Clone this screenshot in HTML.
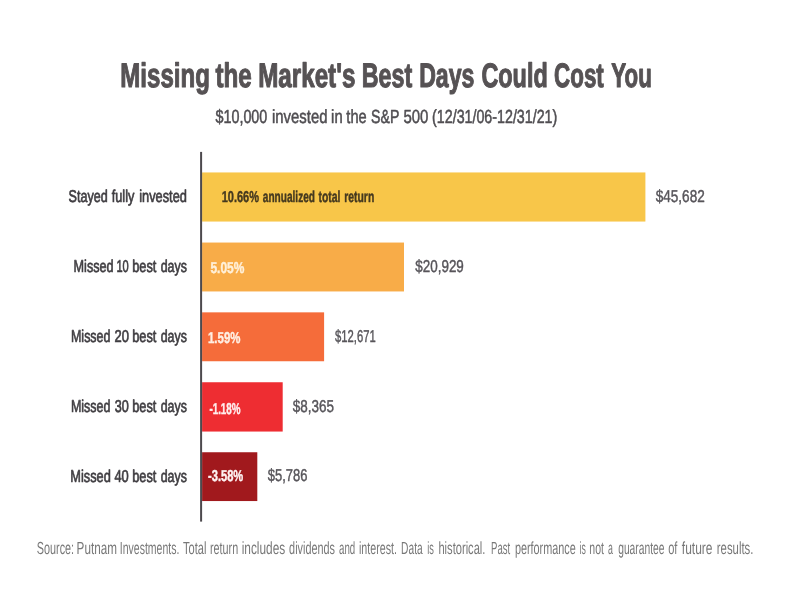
<!DOCTYPE html>
<html lang="en">
<head>
<meta charset="utf-8">
<title>Missing the Market's Best Days Could Cost You</title>
<style>
html,body{margin:0;padding:0;background:#ffffff;}
body{width:792px;height:612px;overflow:hidden;}
svg{display:block;will-change:transform;}
text{font-family:"Liberation Sans",sans-serif;white-space:pre;text-rendering:geometricPrecision;}
</style>
</head>
<body>
<svg width="792" height="612" viewBox="0 0 792 612">
<rect x="0" y="0" width="792" height="612" fill="#ffffff"/>
<rect x="202.10" y="172.45" width="443.30" height="49.10" fill="#F8C649"/>
<rect x="202.10" y="242.55" width="201.90" height="48.90" fill="#F8AC48"/>
<rect x="202.10" y="312.35" width="122.00" height="48.90" fill="#F56C3A"/>
<rect x="202.10" y="382.25" width="80.60" height="49.30" fill="#EE2D32"/>
<rect x="202.10" y="452.25" width="55.20" height="48.80" fill="#A1191D"/>
<rect x="200.10" y="151.90" width="2.00" height="369.70" fill="#4c494d"/>
<text y="87.00" font-size="34.0" font-weight="bold" fill="#565254" stroke="#565254" stroke-width="1.1" stroke-linejoin="round"><tspan x="120.31" textLength="89.52" lengthAdjust="spacingAndGlyphs">Missing</tspan> <tspan x="215.46" textLength="36.31" lengthAdjust="spacingAndGlyphs">the</tspan> <tspan x="258.20" textLength="97.20" lengthAdjust="spacingAndGlyphs">Market's</tspan> <tspan x="361.72" textLength="50.45" lengthAdjust="spacingAndGlyphs">Best</tspan> <tspan x="419.16" textLength="55.24" lengthAdjust="spacingAndGlyphs">Days</tspan> <tspan x="481.42" textLength="66.27" lengthAdjust="spacingAndGlyphs">Could</tspan> <tspan x="554.07" textLength="49.71" lengthAdjust="spacingAndGlyphs">Cost</tspan> <tspan x="611.32" textLength="40.48" lengthAdjust="spacingAndGlyphs">You</tspan></text>
<text y="123.00" font-size="19.0" font-weight="normal" fill="#504e52" stroke="#504e52" stroke-width="0.55" stroke-linejoin="round"><tspan x="215.52" textLength="51.76" lengthAdjust="spacingAndGlyphs">$10,000</tspan> <tspan x="271.94" textLength="55.53" lengthAdjust="spacingAndGlyphs">invested</tspan> <tspan x="331.11" textLength="11.53" lengthAdjust="spacingAndGlyphs">in</tspan> <tspan x="346.37" textLength="20.35" lengthAdjust="spacingAndGlyphs">the</tspan> <tspan x="371.11" textLength="27.93" lengthAdjust="spacingAndGlyphs">S&amp;P</tspan> <tspan x="403.38" textLength="24.98" lengthAdjust="spacingAndGlyphs">500</tspan> <tspan x="432.08" textLength="125.18" lengthAdjust="spacingAndGlyphs">(12/31/06-12/31/21)</tspan></text>
<text y="202.00" font-size="17.2" font-weight="normal" fill="#403e42" stroke="#403e42" stroke-width="0.7" stroke-linejoin="round"><tspan x="68.52" textLength="39.15" lengthAdjust="spacingAndGlyphs">Stayed</tspan> <tspan x="111.73" textLength="22.72" lengthAdjust="spacingAndGlyphs">fully</tspan> <tspan x="139.21" textLength="47.68" lengthAdjust="spacingAndGlyphs">invested</tspan></text>
<text y="272.00" font-size="17.2" font-weight="normal" fill="#403e42" stroke="#403e42" stroke-width="0.7" stroke-linejoin="round"><tspan x="73.58" textLength="40.08" lengthAdjust="spacingAndGlyphs">Missed</tspan> <tspan x="116.46" textLength="12.30" lengthAdjust="spacingAndGlyphs">10</tspan> <tspan x="132.13" textLength="24.25" lengthAdjust="spacingAndGlyphs">best</tspan> <tspan x="160.67" textLength="26.18" lengthAdjust="spacingAndGlyphs">days</tspan></text>
<text y="342.00" font-size="17.2" font-weight="normal" fill="#403e42" stroke="#403e42" stroke-width="0.7" stroke-linejoin="round"><tspan x="70.97" textLength="39.53" lengthAdjust="spacingAndGlyphs">Missed</tspan> <tspan x="114.51" textLength="14.46" lengthAdjust="spacingAndGlyphs">20</tspan> <tspan x="132.13" textLength="24.25" lengthAdjust="spacingAndGlyphs">best</tspan> <tspan x="160.67" textLength="26.18" lengthAdjust="spacingAndGlyphs">days</tspan></text>
<text y="412.00" font-size="17.2" font-weight="normal" fill="#403e42" stroke="#403e42" stroke-width="0.7" stroke-linejoin="round"><tspan x="70.93" textLength="39.56" lengthAdjust="spacingAndGlyphs">Missed</tspan> <tspan x="114.63" textLength="14.06" lengthAdjust="spacingAndGlyphs">30</tspan> <tspan x="132.13" textLength="24.25" lengthAdjust="spacingAndGlyphs">best</tspan> <tspan x="160.67" textLength="26.18" lengthAdjust="spacingAndGlyphs">days</tspan></text>
<text y="482.00" font-size="17.2" font-weight="normal" fill="#403e42" stroke="#403e42" stroke-width="0.7" stroke-linejoin="round"><tspan x="70.25" textLength="40.52" lengthAdjust="spacingAndGlyphs">Missed</tspan> <tspan x="114.44" textLength="14.35" lengthAdjust="spacingAndGlyphs">40</tspan> <tspan x="132.13" textLength="24.25" lengthAdjust="spacingAndGlyphs">best</tspan> <tspan x="160.67" textLength="26.18" lengthAdjust="spacingAndGlyphs">days</tspan></text>
<text y="202.00" font-size="15.8" font-weight="bold" fill="#45391f" stroke="#45391f" stroke-width="0.45" stroke-linejoin="round"><tspan x="221.68" textLength="37.30" lengthAdjust="spacingAndGlyphs">10.66%</tspan> <tspan x="262.81" textLength="52.16" lengthAdjust="spacingAndGlyphs">annualized</tspan> <tspan x="318.44" textLength="21.91" lengthAdjust="spacingAndGlyphs">total</tspan> <tspan x="344.22" textLength="30.04" lengthAdjust="spacingAndGlyphs">return</tspan></text>
<text y="273.00" font-size="15.8" font-weight="bold" fill="#FFF0D9" stroke="#FFF0D9" stroke-width="0.45" stroke-linejoin="round"><tspan x="210.42" textLength="33.93" lengthAdjust="spacingAndGlyphs">5.05%</tspan></text>
<text y="343.00" font-size="15.8" font-weight="bold" fill="#FFEFE3" stroke="#FFEFE3" stroke-width="0.45" stroke-linejoin="round"><tspan x="208.01" textLength="32.42" lengthAdjust="spacingAndGlyphs">1.59%</tspan></text>
<text y="414.00" font-size="15.8" font-weight="bold" fill="#FFEEEE" stroke="#FFEEEE" stroke-width="0.45" stroke-linejoin="round"><tspan x="209.38" textLength="31.21" lengthAdjust="spacingAndGlyphs">-1.18%</tspan></text>
<text y="481.00" font-size="15.8" font-weight="bold" fill="#FFF3F3" stroke="#FFF3F3" stroke-width="0.45" stroke-linejoin="round"><tspan x="208.06" textLength="35.19" lengthAdjust="spacingAndGlyphs">-3.58%</tspan></text>
<text y="202.00" font-size="17.2" font-weight="normal" fill="#57555a" stroke="#57555a" stroke-width="0.45" stroke-linejoin="round"><tspan x="655.70" textLength="49.04" lengthAdjust="spacingAndGlyphs">$45,682</tspan></text>
<text y="272.00" font-size="17.2" font-weight="normal" fill="#57555a" stroke="#57555a" stroke-width="0.45" stroke-linejoin="round"><tspan x="415.28" textLength="48.57" lengthAdjust="spacingAndGlyphs">$20,929</tspan></text>
<text y="342.00" font-size="17.2" font-weight="normal" fill="#57555a" stroke="#57555a" stroke-width="0.45" stroke-linejoin="round"><tspan x="334.99" textLength="40.71" lengthAdjust="spacingAndGlyphs">$12,671</tspan></text>
<text y="412.00" font-size="17.2" font-weight="normal" fill="#57555a" stroke="#57555a" stroke-width="0.45" stroke-linejoin="round"><tspan x="292.70" textLength="41.19" lengthAdjust="spacingAndGlyphs">$8,365</tspan></text>
<text y="481.00" font-size="17.2" font-weight="normal" fill="#57555a" stroke="#57555a" stroke-width="0.45" stroke-linejoin="round"><tspan x="267.71" textLength="39.67" lengthAdjust="spacingAndGlyphs">$5,786</tspan></text>
<text y="554.00" font-size="17.5" font-weight="normal" fill="#787878"><tspan x="36.75" textLength="37.34" lengthAdjust="spacingAndGlyphs">Source:</tspan> <tspan x="76.59" textLength="40.34" lengthAdjust="spacingAndGlyphs">Putnam</tspan> <tspan x="119.85" textLength="59.49" lengthAdjust="spacingAndGlyphs">Investments.</tspan> <tspan x="183.03" textLength="23.37" lengthAdjust="spacingAndGlyphs">Total</tspan> <tspan x="209.98" textLength="28.23" lengthAdjust="spacingAndGlyphs">return</tspan> <tspan x="241.66" textLength="43.50" lengthAdjust="spacingAndGlyphs">includes</tspan> <tspan x="289.11" textLength="45.81" lengthAdjust="spacingAndGlyphs">dividends</tspan> <tspan x="338.99" textLength="16.21" lengthAdjust="spacingAndGlyphs">and</tspan> <tspan x="358.97" textLength="38.06" lengthAdjust="spacingAndGlyphs">interest.</tspan> <tspan x="401.12" textLength="21.54" lengthAdjust="spacingAndGlyphs">Data</tspan> <tspan x="427.32" textLength="6.64" lengthAdjust="spacingAndGlyphs">is</tspan> <tspan x="438.44" textLength="46.98" lengthAdjust="spacingAndGlyphs">historical.</tspan> <tspan x="491.09" textLength="19.19" lengthAdjust="spacingAndGlyphs">Past</tspan> <tspan x="514.89" textLength="60.90" lengthAdjust="spacingAndGlyphs">performance</tspan> <tspan x="579.48" textLength="6.26" lengthAdjust="spacingAndGlyphs">is</tspan> <tspan x="589.36" textLength="14.60" lengthAdjust="spacingAndGlyphs">not</tspan> <tspan x="608.06" textLength="4.90" lengthAdjust="spacingAndGlyphs">a</tspan> <tspan x="618.17" textLength="46.34" lengthAdjust="spacingAndGlyphs">guarantee</tspan> <tspan x="668.19" textLength="9.22" lengthAdjust="spacingAndGlyphs">of</tspan> <tspan x="681.84" textLength="30.70" lengthAdjust="spacingAndGlyphs">future</tspan> <tspan x="716.83" textLength="36.60" lengthAdjust="spacingAndGlyphs">results.</tspan></text>
</svg>
</body>
</html>
